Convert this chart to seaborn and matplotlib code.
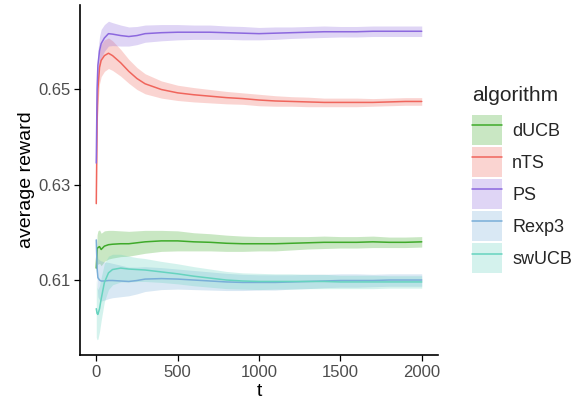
import numpy as np
import pandas as pd
import matplotlib
matplotlib.use("Agg")
import matplotlib.pyplot as plt
import seaborn as sns
from matplotlib.patches import Patch
from matplotlib.lines import Line2D
from matplotlib.legend_handler import HandlerTuple

# => Data
t = [0, 5, 10, 20, 30, 50, 75, 100, 150, 200, 250, 300, 400, 500, 600, 700,
     800, 900, 1000, 1100, 1200, 1300, 1400, 1500, 1600, 1700, 1800, 1900, 2000]

algorithms = ["dUCB", "nTS", "PS", "Rexp3", "swUCB"]

ducb_mean = [0.6125, 0.6165, 0.6168, 0.6170, 0.6164, 0.6171, 0.6174, 0.6175, 0.6176, 0.6176,
             0.6178, 0.6180, 0.6182, 0.6182, 0.6180, 0.6179, 0.6177, 0.6176, 0.6176, 0.6176,
             0.6177, 0.6178, 0.6179, 0.6179, 0.6179, 0.6180, 0.6179, 0.6179, 0.6180]
ducb_half = [0.0010, 0.0030, 0.0035, 0.0035, 0.0034, 0.0032, 0.0030, 0.0029, 0.0027, 0.0026,
             0.0025, 0.0024, 0.0022, 0.0021, 0.0019, 0.0018, 0.0017, 0.0016, 0.0015, 0.0015,
             0.0014, 0.0013, 0.0013, 0.0012, 0.0012, 0.0012, 0.0011, 0.0011, 0.0011]

nts_mean = [0.6260, 0.6430, 0.6500, 0.6545, 0.6560, 0.6570, 0.6575, 0.6570, 0.6555, 0.6537,
            0.6522, 0.6511, 0.6499, 0.6492, 0.6488, 0.6485, 0.6482, 0.6480, 0.6477, 0.6475,
            0.6474, 0.6473, 0.6472, 0.6472, 0.6472, 0.6472, 0.6473, 0.6474, 0.6474]
nts_half = [0.0010, 0.0030, 0.0033, 0.0034, 0.0034, 0.0033, 0.0032, 0.0031, 0.0028, 0.0025,
            0.0023, 0.0021, 0.0018, 0.0016, 0.0015, 0.0014, 0.0013, 0.0012, 0.0012, 0.0011,
            0.0010, 0.0010, 0.0009, 0.0009, 0.0009, 0.0008, 0.0008, 0.0008, 0.0008]

ps_mean = [0.6345, 0.6500, 0.6550, 0.6580, 0.6595, 0.6607, 0.6616, 0.6615, 0.6612, 0.6610,
           0.6612, 0.6616, 0.6618, 0.6619, 0.6619, 0.6619, 0.6618, 0.6617, 0.6616, 0.6617,
           0.6618, 0.6619, 0.6620, 0.6620, 0.6620, 0.6621, 0.6621, 0.6621, 0.6621]
ps_half = [0.0010, 0.0025, 0.0030, 0.0030, 0.0030, 0.0028, 0.0026, 0.0024, 0.0022, 0.0020,
           0.0019, 0.0018, 0.0017, 0.0016, 0.0015, 0.0015, 0.0014, 0.0014, 0.0013, 0.0013,
           0.0012, 0.0012, 0.0012, 0.0011, 0.0011, 0.0011, 0.0011, 0.0011, 0.0011]

rexp3_mean = [0.6184, 0.6125, 0.6105, 0.6100, 0.6098, 0.6098, 0.6099, 0.6099, 0.6098, 0.6097,
              0.6099, 0.6102, 0.6103, 0.6102, 0.6100, 0.6098, 0.6096, 0.6095, 0.6095, 0.6095,
              0.6096, 0.6097, 0.6098, 0.6099, 0.6099, 0.6099, 0.6100, 0.6100, 0.6100]
rexp3_half = [0.0010, 0.0035, 0.0040, 0.0042, 0.0042, 0.0040, 0.0038, 0.0036, 0.0033, 0.0030,
              0.0028, 0.0026, 0.0023, 0.0021, 0.0020, 0.0019, 0.0018, 0.0017, 0.0016, 0.0016,
              0.0015, 0.0015, 0.0014, 0.0014, 0.0014, 0.0013, 0.0013, 0.0013, 0.0013]

swucb_mean = [0.6040, 0.6030, 0.6028, 0.6040, 0.6060, 0.6095, 0.6115, 0.6122, 0.6125, 0.6123,
              0.6122, 0.6121, 0.6117, 0.6113, 0.6108, 0.6104, 0.6100, 0.6098, 0.6097, 0.6097,
              0.6097, 0.6097, 0.6097, 0.6096, 0.6096, 0.6096, 0.6096, 0.6096, 0.6096]
swucb_half = [0.0060, 0.0055, 0.0052, 0.0048, 0.0045, 0.0040, 0.0035, 0.0032, 0.0029, 0.0027,
              0.0025, 0.0024, 0.0022, 0.0021, 0.0020, 0.0019, 0.0018, 0.0017, 0.0017, 0.0016,
              0.0016, 0.0015, 0.0015, 0.0014, 0.0014, 0.0014, 0.0013, 0.0013, 0.0013]

colors = ["#3FAA2A", "#F0655C", "#8C68DE", "#79AED8", "#66D3BF"]

means = [ducb_mean, nts_mean, ps_mean, rexp3_mean, swucb_mean]
halves = [ducb_half, nts_half, ps_half, rexp3_half, swucb_half]

# long table for seaborn
df = pd.concat([pd.DataFrame({"t": t, "reward": m, "half": h, "algorithm": a})
                for a, m, h in zip(algorithms, means, halves)], ignore_index=True)

sns.set_theme(style="ticks")
plt.rcParams["font.family"] = ["Liberation Sans", "DejaVu Sans"]

fig = plt.figure(figsize=(5.79, 4.04), dpi=100)
ax = fig.add_axes([80 / 579, 1 - 355 / 404, 358 / 579, 350 / 404])

# ribbons
for a, c in zip(algorithms, colors):
    sub = df[df.algorithm == a]
    ax.fill_between(sub.t, sub.reward - sub.half, sub.reward + sub.half,
                    color=c, alpha=0.28, linewidth=0)

sns.lineplot(data=df, x="t", y="reward", hue="algorithm", hue_order=algorithms,
             palette=colors, linewidth=1.1, legend=False, ax=ax)

ax.set_xlim(-100, 2100)
ax.set_ylim(0.5943, 0.6676)
ax.set_xticks([0, 500, 1000, 1500, 2000])
ax.set_yticks([0.61, 0.63, 0.65])
ax.set_yticklabels(["0.61", "0.63", "0.65"])
ax.set_xlabel("t", fontsize=14, color="black", labelpad=2)
ax.set_ylabel("average reward", fontsize=14, color="black", labelpad=2)
ax.tick_params(axis="both", labelsize=12, labelcolor="#4D4D4D", color="black",
               width=0.9, length=4, pad=3)
for side in ["left", "bottom"]:
    ax.spines[side].set_linewidth(1.2)
    ax.spines[side].set_color("black")
sns.despine(ax=ax)

# legend: line over ribbon-coloured key
handles = [(Patch(facecolor=c, alpha=0.28, edgecolor="none"),
            Line2D([], [], color=c, linewidth=1.1)) for c in colors]
leg = fig.legend(handles, algorithms, handler_map={tuple: HandlerTuple(ndivide=1)},
                 loc="upper left", bbox_to_anchor=(465 / 579, 1 - 79 / 404),
                 frameon=False, fontsize=13, title="algorithm", title_fontsize=15,
                 handlelength=1.66, handleheight=2.2, labelspacing=0.1,
                 handletextpad=0.55, borderaxespad=0)
leg._legend_box.align = "left"
leg._legend_box.sep = 7

fig.savefig("out.png", dpi=100)
